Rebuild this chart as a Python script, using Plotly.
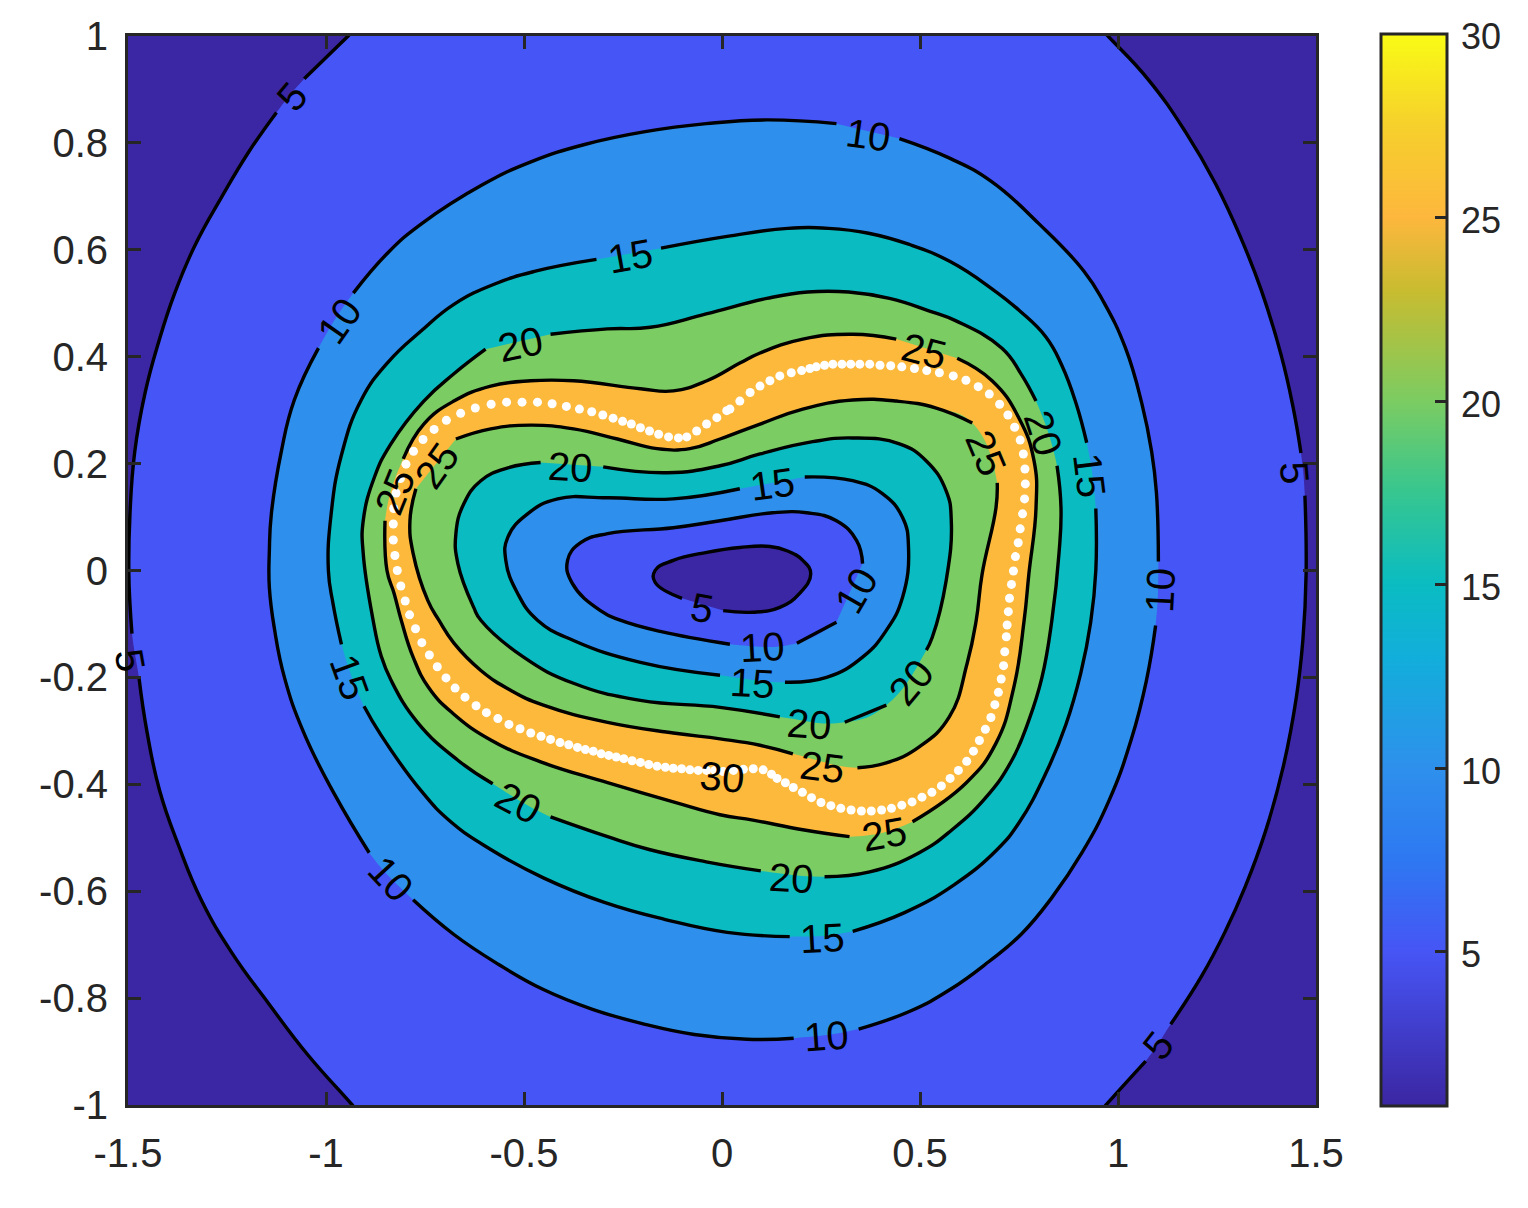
import plotly.graph_objects as go

# Contour lines (data units). None marks a gap left for an inline label.
C5_OUT_X = [-0.783,-0.888,-0.944,-1.055,None,-1.125,-1.196,-1.264,-1.331,-1.382,-1.422,-1.457,-1.483,-1.495,-1.498,-1.495,-1.490,None,
            -1.472,-1.452,-1.420,-1.372,-1.314,-1.238,-1.145,-1.045,-0.936,-0.886,-0.773,None,
            0.808,0.921,0.972,1.070,None,1.133,1.211,1.271,1.321,1.372,1.417,1.450,1.467,1.475,1.472,None,
            1.462,1.442,1.412,1.362,1.311,1.246,1.170,1.077,0.977,0.921,0.815]
C5_OUT_Y = [1.120,1.041,1.000,0.920,None,0.857,0.782,0.698,0.608,0.519,0.429,0.332,0.222,0.106,0.000,-0.063,-0.118,None,
            -0.202,-0.302,-0.412,-0.515,-0.618,-0.715,-0.810,-0.907,-0.998,-1.041,-1.120,None,
            -1.120,-1.041,-0.998,-0.918,None,-0.849,-0.759,-0.675,-0.592,-0.489,-0.368,-0.239,-0.129,-0.006,0.140,None,
            0.220,0.306,0.403,0.524,0.621,0.724,0.821,0.918,0.998,1.041,1.120]

C10_OUT_X = [0.448,0.576,0.680,0.800,0.914,0.964,1.019,1.060,1.085,1.097,1.102,None,1.095,1.072,1.034,0.977,0.909,0.833,0.755,0.675,0.576,0.473,0.345,None,
             0.181,0.063,-0.070,-0.194,-0.327,-0.451,-0.564,-0.677,-0.780,None,-0.891,-0.979,-1.057,-1.105,-1.130,-1.143,-1.143,-1.138,-1.113,-1.080,-1.019,None,
             -0.931,-0.843,-0.760,-0.604,-0.481,-0.347,-0.194,-0.040,0.113,0.289]
C10_OUT_Y = [0.808,0.771,0.728,0.649,0.560,0.502,0.416,0.313,0.222,0.146,0.017,None,-0.103,-0.205,-0.315,-0.431,-0.528,-0.612,-0.681,-0.731,-0.784,-0.825,-0.858,None,
             -0.875,-0.877,-0.868,-0.849,-0.821,-0.784,-0.737,-0.681,-0.616,None,-0.528,-0.418,-0.302,-0.200,-0.110,-0.032,0.037,0.106,0.222,0.319,0.416,None,
             0.519,0.595,0.648,0.722,0.765,0.797,0.821,0.836,0.843,0.836]

C15_OUT_X = [-0.154,0.013,0.166,0.269,0.370,0.473,0.576,0.680,0.750,0.818,0.858,0.894,0.921,None,0.944,0.944,0.931,0.906,0.868,0.818,0.750,0.695,0.586,0.461,0.330,None,
             0.171,0.013,-0.143,-0.297,-0.451,-0.584,-0.685,-0.760,-0.861,-0.904,None,-0.961,-0.982,-0.994,-0.987,-0.961,-0.911,-0.843,-0.760,-0.677,-0.574,-0.471,-0.317]
C15_OUT_Y = [0.603,0.625,0.640,0.640,0.631,0.610,0.578,0.528,0.487,0.437,0.384,0.313,0.239,None,0.116,0.000,-0.097,-0.192,-0.289,-0.379,-0.472,-0.522,-0.588,-0.640,-0.675,None,
             -0.685,-0.677,-0.653,-0.621,-0.575,-0.522,-0.470,-0.412,-0.308,-0.254,None,-0.138,-0.063,0.000,0.106,0.216,0.319,0.390,0.448,0.498,0.536,0.560,0.582]

C20_OUT_X = [-0.433,-0.289,-0.181,-0.040,0.113,0.216,0.320,0.423,0.526,0.591,0.707,0.755,0.793,None,0.846,0.856,0.851,0.833,0.808,0.775,0.732,0.667,0.581,0.498,0.373,0.259,None,
             0.098,-0.040,-0.184,-0.289,-0.433,None,-0.579,-0.667,-0.768,-0.836,-0.861,-0.881,-0.906,-0.906,-0.878,-0.836,-0.753,-0.677,-0.597]
C20_OUT_Y = [0.442,0.452,0.455,0.480,0.509,0.521,0.521,0.509,0.485,0.467,0.416,0.368,0.317,None,0.196,0.118,0.032,-0.093,-0.200,-0.280,-0.355,-0.424,-0.485,-0.528,-0.564,-0.573,None,
             -0.562,-0.545,-0.522,-0.498,-0.461,None,-0.399,-0.355,-0.285,-0.205,-0.159,-0.093,0.032,0.093,0.174,0.237,0.317,0.368,0.414]

C25_OUT_X = [0.594,0.682,0.750,0.788,0.793,0.775,0.763,0.737,0.692,0.617,0.481,None,0.322,0.204,0.078,-0.005,-0.123,-0.289,-0.458,-0.584,-0.680,-0.740,-0.780,-0.810,-0.828,-0.846,-0.851,None,
             -0.805,-0.753,-0.677,-0.584,-0.483,-0.375,-0.206,-0.123,-0.038,0.045,0.096,0.204,0.330,0.440]
C25_OUT_Y = [0.397,0.355,0.285,0.205,0.118,-0.006,-0.093,-0.218,-0.323,-0.397,-0.470,None,-0.498,-0.485,-0.467,-0.457,-0.433,-0.397,-0.358,-0.317,-0.267,-0.220,-0.162,-0.093,-0.043,0.000,0.093,None,
             0.209,0.274,0.317,0.345,0.355,0.355,0.340,0.336,0.355,0.388,0.407,0.433,0.442,0.433]

C25_IN_X = [-0.672,-0.584,-0.483,-0.375,-0.264,-0.164,-0.081,-0.005,0.096,0.204,0.330,0.440,0.541,0.632,None,0.695,0.692,0.657,0.642,0.619,0.574,0.498,0.415,0.342,None,
            0.179,0.096,-0.005,-0.123,-0.289,-0.451,-0.534,-0.609,-0.677,-0.715,-0.743,-0.780,-0.788,-0.773]
C25_IN_Y = [0.246,0.265,0.272,0.265,0.246,0.228,0.228,0.246,0.274,0.302,0.319,0.317,0.304,0.276,None,0.164,0.118,-0.006,-0.093,-0.174,-0.274,-0.330,-0.360,-0.369,None,
            -0.343,-0.327,-0.315,-0.304,-0.284,-0.252,-0.224,-0.187,-0.136,-0.093,-0.056,0.032,0.093,0.153]

C20_IN_X = [-0.300,-0.138,-0.005,0.096,0.229,0.330,0.448,0.516,0.566,0.579,0.566,0.531,0.516,None,0.415,0.310,None,
            0.146,-0.005,-0.206,-0.375,-0.501,-0.609,-0.627,-0.667,-0.672,-0.652,-0.609,-0.541,-0.458]
C20_IN_Y = [0.194,0.183,0.196,0.218,0.241,0.248,0.237,0.205,0.149,0.093,-0.019,-0.125,-0.149,None,-0.252,-0.284,None,
            -0.274,-0.256,-0.243,-0.211,-0.162,-0.093,-0.069,0.013,0.069,0.125,0.168,0.192,0.202]

C15_IN_X = [0.209,0.330,0.405,0.456,0.471,0.456,0.415,0.355,0.264,0.159,None,-0.005,-0.206,-0.375,-0.466,-0.516,-0.546,-0.541,-0.491,-0.415,-0.289,-0.123,0.045]
C15_IN_Y = [0.175,0.168,0.144,0.099,0.043,-0.050,-0.112,-0.162,-0.200,-0.209,None,-0.196,-0.172,-0.131,-0.093,-0.043,0.019,0.062,0.106,0.134,0.136,0.134,0.153]

C10_IN_X = [0.289,0.189,None,0.020,-0.156,-0.257,-0.307,-0.378,-0.390,-0.357,-0.289,-0.123,-0.005,0.128,0.214,0.289,0.340,0.355]
C10_IN_Y = [-0.097,-0.136,None,-0.138,-0.114,-0.093,-0.075,-0.024,0.019,0.052,0.069,0.080,0.093,0.108,0.108,0.093,0.056,0.013]

C5_IN_X = [-0.101,-0.169,-0.169,-0.123,-0.038,0.045,0.121,0.164,0.204,0.224,0.196,0.146,0.078,0.003]
C5_IN_Y = [-0.052,-0.022,0.000,0.019,0.034,0.043,0.045,0.037,0.019,-0.006,-0.043,-0.069,-0.078,-0.075]

# White dots along the 30 level
DOT_X = [-0.829,-0.823,-0.812,-0.798,-0.779,-0.755,-0.727,-0.696,-0.660,-0.623,-0.583,-0.544,-0.505,-0.466,-0.429,-0.393,-0.360,-0.329,-0.301,-0.275,-0.251,-0.229,-0.206,-0.183,-0.160,-0.135,-0.110,-0.089,-0.064,-0.039,-0.013,0.012,
         0.020,0.045,0.071,0.096,0.121,0.146,0.175,0.201,0.222,0.238,0.259,0.280,0.303,0.325,0.348,0.373,0.399,0.426,0.454,0.486,0.517,0.549,0.584,0.616,0.647,0.675,0.701,0.722,0.739,0.753,0.761,0.765,0.766,0.764,0.759,0.753,0.748,0.741,0.736,0.731,0.726,0.723,0.720,0.718,
         0.714,0.711,0.705,0.698,0.689,0.679,0.665,0.650,0.635,0.618,0.597,0.576,0.554,0.530,0.505,0.480,0.454,0.428,0.403,0.377,0.352,0.326,0.300,0.275,0.250,0.226,0.203,0.180,0.160,0.139,0.125,0.104,0.079,0.054,0.029,0.003,
         -0.018,-0.039,-0.060,-0.081,-0.102,-0.123,-0.143,-0.164,-0.185,-0.206,-0.227,-0.248,-0.267,-0.286,-0.305,-0.325,-0.345,-0.365,-0.387,-0.409,-0.433,-0.457,-0.483,-0.510,-0.538,-0.566,-0.595,-0.621,-0.649,-0.674,-0.697,-0.719,-0.739,-0.758,-0.774,
         -0.789,-0.800,-0.811,-0.820,-0.826,-0.830,-0.830]
DOT_Y = [0.116,0.145,0.172,0.199,0.223,0.245,0.264,0.281,0.294,0.304,0.311,0.315,0.315,0.315,0.312,0.307,0.302,0.297,0.291,0.285,0.279,0.274,0.267,0.261,0.255,0.250,0.248,0.250,0.261,0.274,0.286,0.299,
         0.302,0.317,0.333,0.345,0.355,0.364,0.370,0.374,0.378,0.381,0.384,0.386,0.386,0.386,0.386,0.386,0.384,0.383,0.381,0.378,0.374,0.370,0.364,0.356,0.344,0.330,0.311,0.291,0.268,0.244,0.218,0.190,0.162,0.134,0.106,0.078,0.052,0.026,-0.001,-0.026,-0.052,-0.077,-0.102,-0.124,
         -0.152,-0.178,-0.203,-0.228,-0.251,-0.275,-0.297,-0.318,-0.338,-0.357,-0.374,-0.389,-0.403,-0.415,-0.424,-0.433,-0.439,-0.445,-0.448,-0.450,-0.450,-0.448,-0.445,-0.440,-0.434,-0.425,-0.415,-0.406,-0.397,-0.389,-0.381,-0.373,-0.371,-0.372,-0.374,-0.376,
         -0.374,-0.374,-0.374,-0.373,-0.371,-0.370,-0.368,-0.366,-0.363,-0.359,-0.356,-0.352,-0.349,-0.346,-0.343,-0.338,-0.335,-0.331,-0.326,-0.322,-0.316,-0.310,-0.304,-0.296,-0.288,-0.277,-0.266,-0.253,-0.237,-0.220,-0.201,-0.180,-0.158,-0.135,-0.109,
         -0.083,-0.057,-0.029,0.000,0.028,0.057,0.087]

# Inline contour labels
LABEL_TEXT = ["5","10","5","15","10","20","25","25","20","15","10","25","20","15","5","25","20","15","10","5","10","15","20","20","25","30","25","20","15","10","10","5"]
LABEL_X = [-1.087,-0.967,-1.495,-0.941,-0.836,-0.513,-0.826,-0.720,-0.508,-0.232,0.370,0.511,0.813,0.929,1.447,0.667,-0.383,0.128,0.340,-0.050,0.103,0.078,0.478,0.221,0.254,0.000,0.410,0.176,0.254,0.264,1.107,1.102]
LABEL_Y = [0.886,0.467,-0.168,-0.200,-0.578,-0.435,0.149,0.198,0.424,0.588,0.815,0.411,0.256,0.177,0.183,0.220,0.194,0.162,-0.037,-0.071,-0.144,-0.211,-0.209,-0.287,-0.368,-0.386,-0.493,-0.575,-0.687,-0.871,-0.037,-0.888]
LABEL_ANGLE = [-50,-55,80,70,47,28,-68,-55,-12,-10,8,14,72,83,85,67,3,-8,-60,10,-3,3,-50,4,7,5,-10,3,-3,-4,-87,-52]

# Axes and colour bar
X_TICKS = [-1.5,-1,-0.5,0,0.5,1,1.5]
X_LABELS = ["-1.5","-1","-0.5","0","0.5","1","1.5"]
Y_TICKS = [-1,-0.8,-0.6,-0.4,-0.2,0,0.2,0.4,0.6,0.8,1]
Y_LABELS = ["-1","-0.8","-0.6","-0.4","-0.2","0","0.2","0.4","0.6","0.8","1"]
CB_TICKS = [5,10,15,20,25,30]
CB_MIN, CB_MAX = 0.8, 30.0
CB_VALUES = [0.8,5,7.5,10,13,15,17.5,20,23,25,27.5,30.0]
CB_COLORS = ["#3B26A2","#4655F5","#2E78F2","#2E90EC","#12AEDB","#0ABCC2","#36C690","#7BCC62","#C8BC30","#FDB73D","#F6D02C","#F9FB15"]

C_DARK, C_5, C_10, C_15, C_20, C_25 = "#3B26A3","#4655F5","#2E90EC","#0ABCC2","#7BCC62","#FCB93C"
INK = "#262626"
FONT = "Liberation Sans"

fig = go.Figure()

def contour(xs, ys, fill):
    fig.add_trace(go.Scatter(
        x=[v for v in xs if v is not None], y=[v for v in ys if v is not None],
        mode="lines", fill="toself", fillcolor=fill,
        line=dict(width=0, color=fill, shape="spline", smoothing=1.3), hoverinfo="skip", showlegend=False))

def lines(xs, ys):
    fig.add_trace(go.Scatter(
        x=xs, y=ys, mode="lines", line=dict(width=3.4, color="#000000", shape="spline", smoothing=1.3),
        hoverinfo="skip", showlegend=False))

LAYERS = [(C5_OUT_X,C5_OUT_Y,C_5),(C10_OUT_X,C10_OUT_Y,C_10),(C15_OUT_X,C15_OUT_Y,C_15),
          (C20_OUT_X,C20_OUT_Y,C_20),(C25_OUT_X,C25_OUT_Y,C_25),(C25_IN_X,C25_IN_Y,C_20),
          (C20_IN_X,C20_IN_Y,C_15),(C15_IN_X,C15_IN_Y,C_10),(C10_IN_X,C10_IN_Y,C_5),(C5_IN_X,C5_IN_Y,C_DARK)]
for xs, ys, col in LAYERS:
    contour(xs, ys, col)
for xs, ys, col in LAYERS:
    lines(xs, ys)

fig.add_trace(go.Scatter(x=DOT_X, y=DOT_Y, mode="markers",
                         marker=dict(size=9, color="#FFFFFF", line=dict(width=0)),
                         hoverinfo="skip", showlegend=False))

scale = [[(v-CB_MIN)/(CB_MAX-CB_MIN), c] for v, c in zip(CB_VALUES, CB_COLORS)]
fig.add_trace(go.Scatter(
    x=[None,None], y=[None,None], mode="markers", showlegend=False, hoverinfo="skip",
    marker=dict(color=[CB_MIN,CB_MAX], cmin=CB_MIN, cmax=CB_MAX, colorscale=scale, showscale=True,
                colorbar=dict(x=1.0545, xanchor="left", xpad=0, ypad=0,
                              yref="paper", y=-1/1069, yanchor="bottom",
                              thicknessmode="pixels", thickness=66, lenmode="fraction", len=1072/1069,
                              outlinecolor=INK, outlinewidth=3, borderwidth=0,
                              ticks="inside", ticklen=13, tickwidth=3, tickcolor=INK,
                              tickmode="array", tickvals=CB_TICKS, showticklabels=False))))

for t, x, y, a in zip(LABEL_TEXT, LABEL_X, LABEL_Y, LABEL_ANGLE):
    fig.add_annotation(x=x, y=y, xref="x", yref="y", text=t, textangle=a, showarrow=False,
                       xanchor="center", yanchor="middle", borderpad=0,
                       font=dict(family=FONT, size=40, color="#000000"))

# Colour bar tick labels, placed to the right of the bar
for v in CB_TICKS:
    fig.add_annotation(xref="paper", yref="paper", x=1.1215, xanchor="left", yanchor="middle",
                       y=(v-CB_MIN)/(CB_MAX-CB_MIN)*1072/1069-1/1069, yshift=-3,
                       text=str(v), showarrow=False, borderpad=0, captureevents=False,
                       font=dict(family=FONT, size=36, color=INK))

axis = dict(showgrid=False, zeroline=False, showline=True, linecolor=INK, linewidth=3, mirror="ticks",
            ticks="inside", ticklen=13, tickwidth=3, tickcolor=INK, tickmode="array", layer="above traces",
            tickfont=dict(family=FONT, size=40, color=INK), automargin=False)
fig.update_xaxes(range=[-1.5,1.5], tickvals=X_TICKS, ticktext=X_LABELS, ticklabelstandoff=11, **axis)
fig.update_yaxes(range=[-1,1], tickvals=Y_TICKS, ticktext=Y_LABELS, ticklabelstandoff=9, **axis)
fig.update_layout(width=1528, height=1208, margin=dict(l=128,r=212,t=36,b=103,pad=0,autoexpand=False),
                  plot_bgcolor=C_DARK, paper_bgcolor="#FFFFFF", showlegend=False,
                  font=dict(family=FONT))

fig.write_html("out.html", config=dict(displayModeBar=False),
               post_script="document.body.style.margin='0';")
